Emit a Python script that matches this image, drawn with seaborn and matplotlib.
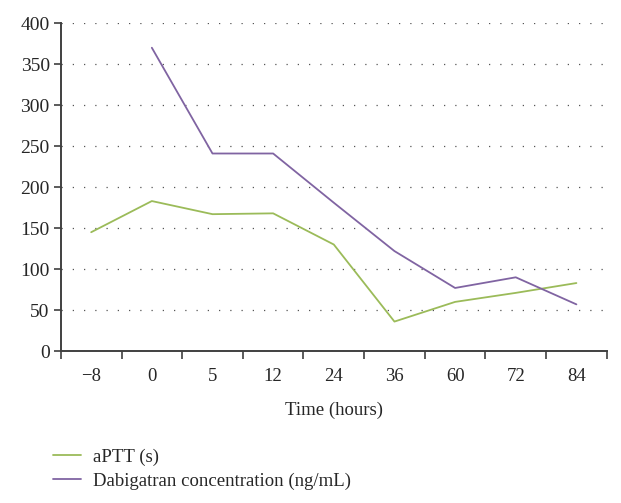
import numpy as np
import pandas as pd
import matplotlib
matplotlib.use('Agg')
import matplotlib.pyplot as plt
import seaborn as sns

time_labels = ['\u22128', '0', '5', '12', '24', '36', '60', '72', '84']
aptt = [145, 183, 167, 168, 130, 36, 60, 71, 83]
dabigatran = [np.nan, 370, 241, 241, 181, 122, 77, 90, 57]
series_names = ['aPTT (s)', 'Dabigatran concentration (ng/mL)']
colors = ['#9BBB59', '#8064A2']

sns.set_style('white')
plt.rcParams['font.family'] = ['Liberation Serif', 'DejaVu Serif']

pos = np.arange(len(time_labels))
df = pd.concat([
    pd.DataFrame({'pos': pos, 'value': aptt, 'series': series_names[0]}),
    pd.DataFrame({'pos': pos, 'value': dabigatran, 'series': series_names[1]}),
]).dropna()

fig = plt.figure(figsize=(6.21, 5.03), dpi=100)
ax = fig.add_axes([0.098, 0.302, 0.879, 0.652])

sns.lineplot(data=df, x='pos', y='value', hue='series', palette=colors,
             linewidth=1.3, ax=ax, legend=True)

ax.set_xlim(-0.5, len(time_labels) - 0.5)
ax.set_ylim(0, 400)
ax.set_yticks(np.arange(0, 401, 50))
ax.set_xticks(pos)
ax.set_xticklabels(time_labels)
ax.set_xticks(np.arange(-0.5, len(time_labels), 1), minor=True)
ax.tick_params(axis='x', which='major', bottom=True, length=0, pad=12, labelsize=13.5)
ax.tick_params(axis='x', which='minor', bottom=True, length=6, width=1.2, color='#404040', direction='out')
ax.tick_params(axis='y', left=True, length=5, width=1.2, color='#404040', direction='out', labelsize=14, pad=3)
ax.grid(axis='y', linestyle=(0, (1, 8)), color='#555555', linewidth=0.9)
for s in ['top', 'right']:
    ax.spines[s].set_visible(False)
for s in ['left', 'bottom']:
    ax.spines[s].set_color('#404040')
    ax.spines[s].set_linewidth(1.4)

ax.set_xlabel('Time (hours)', fontsize=13.5, labelpad=12)
ax.set_ylabel('')

ax.legend(loc='upper left', bbox_to_anchor=(-0.046, -0.245), frameon=False,
          fontsize=13.5, handlelength=1.5, handletextpad=0.65, labelspacing=0.35, title=None)

plt.savefig('out.png', dpi=100)
